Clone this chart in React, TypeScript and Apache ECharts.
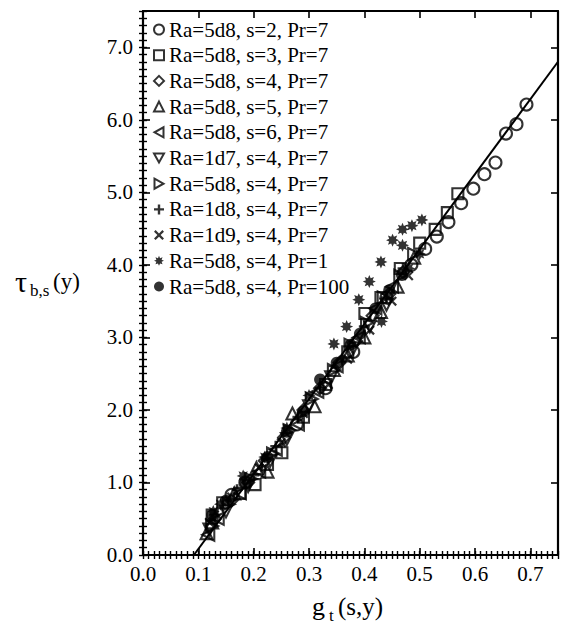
import React, { useEffect, useRef } from "react";
import * as echarts from "echarts";

// ---------- data ----------
const xTickValues = [0.0, 0.1, 0.2, 0.3, 0.4, 0.5, 0.6, 0.7];
const yTickValues = [0.0, 1.0, 2.0, 3.0, 4.0, 5.0, 6.0, 7.0];

const seriesNames = [
  "Ra=5d8, s=2, Pr=7",
  "Ra=5d8, s=3, Pr=7",
  "Ra=5d8, s=4, Pr=7",
  "Ra=5d8, s=5, Pr=7",
  "Ra=5d8, s=6, Pr=7",
  "Ra=1d7, s=4, Pr=7",
  "Ra=5d8, s=4, Pr=7 ",
  "Ra=1d8, s=4, Pr=7",
  "Ra=1d9, s=4, Pr=7",
  "Ra=5d8, s=4, Pr=1",
  "Ra=5d8, s=4, Pr=100",
];

const s2Circles = [
  [0.16, 0.83], [0.185, 1.0], [0.278, 1.8], [0.33, 2.3], [0.38, 2.8], [0.44, 3.55],
  [0.485, 4.0], [0.51, 4.22], [0.531, 4.39], [0.552, 4.59], [0.575, 4.85], [0.597, 5.05],
  [0.617, 5.25], [0.637, 5.41], [0.656, 5.81], [0.675, 5.94], [0.693, 6.21],
];
const s3Squares = [
  [0.125, 0.55], [0.144, 0.72], [0.175, 0.85], [0.2025, 0.97], [0.225, 1.25], [0.251, 1.41],
  [0.29, 1.9], [0.33, 2.35], [0.37, 2.8], [0.401, 3.33], [0.43, 3.55], [0.465, 3.95],
  [0.5, 4.3], [0.528, 4.49], [0.55, 4.72], [0.569, 4.98],
];
const s4Diamonds = [
  [0.13, 0.5], [0.16, 0.75], [0.19, 1.0], [0.22, 1.3], [0.255, 1.62], [0.29, 2.0],
  [0.32, 2.3], [0.355, 2.65], [0.385, 2.95], [0.415, 3.3], [0.445, 3.6], [0.47, 3.9],
];
const s5TrianglesUp = [
  [0.115, 0.3], [0.125, 0.45], [0.165, 0.85], [0.205, 1.2], [0.225, 1.15], [0.27, 1.95],
  [0.31, 2.05], [0.345, 2.55], [0.37, 2.75], [0.4, 3.0], [0.43, 3.35], [0.46, 3.7], [0.49, 4.1],
];
const s6TrianglesLeft = [
  [0.118, 0.28], [0.135, 0.5], [0.175, 0.85], [0.21, 1.15], [0.24, 1.45], [0.28, 1.8],
  [0.315, 2.25], [0.35, 2.6], [0.39, 3.0], [0.42, 3.4], [0.45, 3.7],
];
const s7TrianglesDown = [
  [0.12, 0.35], [0.15, 0.6], [0.19, 0.95], [0.23, 1.3], [0.26, 1.6], [0.3, 2.05],
  [0.34, 2.45], [0.38, 2.85], [0.41, 3.15], [0.44, 3.45],
];
const s8TrianglesRight = [
  [0.125, 0.4], [0.155, 0.7], [0.195, 1.05], [0.235, 1.4], [0.265, 1.72], [0.305, 2.15],
  [0.345, 2.55], [0.375, 2.9], [0.405, 3.2], [0.435, 3.55], [0.465, 3.85], [0.49, 4.15],
];
const s9Plus = [
  [0.13, 0.55], [0.17, 0.9], [0.2, 1.1], [0.24, 1.5], [0.28, 1.9], [0.32, 2.3],
  [0.36, 2.7], [0.4, 3.15], [0.44, 3.55], [0.47, 3.95],
];
const s10Cross = [
  [0.12, 0.45], [0.16, 0.8], [0.21, 1.2], [0.25, 1.55], [0.29, 1.95], [0.335, 2.35],
  [0.37, 2.7], [0.41, 3.1], [0.45, 3.5], [0.48, 3.85],
];
const s11Asterisk = [
  [0.127, 0.6], [0.14, 0.7], [0.181, 1.09], [0.22, 1.35], [0.26, 1.75], [0.3, 2.2],
  [0.345, 2.91], [0.368, 3.15], [0.39, 3.52], [0.409, 3.77], [0.43, 4.04], [0.451, 4.34],
  [0.469, 4.27], [0.469, 4.49], [0.486, 4.54], [0.504, 4.62], [0.431, 3.22], [0.48, 3.95], [0.5, 4.15],
];
const s12Filled = [
  [0.125, 0.55], [0.15, 0.75], [0.185, 1.0], [0.225, 1.35], [0.26, 1.7], [0.29, 1.98],
  [0.32, 2.42], [0.35, 2.65], [0.375, 2.9], [0.392, 3.05], [0.42, 3.4], [0.445, 3.65], [0.468, 3.86],
];
const fitLine = [
  [0.092, 0.0],
  [0.75, 6.8],
];

// ---------- styles ----------
const FONT = "Liberation Serif";
const BLACK = "#000";
const HOLLOW = "rgba(255,255,255,0)";

function starPath(): string {
  const pts: string[] = [];
  for (let i = 0; i < 16; i++) {
    const a = (i * Math.PI) / 8 - Math.PI / 2;
    const r = i % 2 === 0 ? 5 : 2.8;
    pts.push(`${(5 + r * Math.cos(a)).toFixed(2)},${(5 + r * Math.sin(a)).toFixed(2)}`);
  }
  return "path://M" + pts.join("L") + "Z";
}

const SYM_DOWN = "path://M0,0L10,0L5,9Z";
const SYM_LEFT = "path://M9,0L9,10L0,5Z";
const SYM_RIGHT = "path://M0,0L9,5L0,10Z";
const SYM_PLUS = "path://M3.8,0H6.2V3.8H10V6.2H6.2V10H3.8V6.2H0V3.8H3.8Z";
const SYM_CROSS =
  "path://M1.6,0L5,3.4L8.4,0L10,1.6L6.6,5L10,8.4L8.4,10L5,6.6L1.6,10L0,8.4L3.4,5L0,1.6Z";
const SYM_STAR = starPath();

const hollowStyle = { color: HOLLOW, borderColor: BLACK, borderWidth: 2.1 };
const solidStyle = { color: BLACK, borderColor: BLACK, borderWidth: 0 };

const seriesDefs = [
  { data: s2Circles, symbol: "circle", size: 12, style: hollowStyle },
  { data: s3Squares, symbol: "rect", size: 11, style: hollowStyle },
  { data: s4Diamonds, symbol: "diamond", size: 12, style: hollowStyle },
  { data: s5TrianglesUp, symbol: "triangle", size: 12, style: hollowStyle },
  { data: s6TrianglesLeft, symbol: SYM_LEFT, size: 12, style: hollowStyle },
  { data: s7TrianglesDown, symbol: SYM_DOWN, size: 12, style: hollowStyle },
  { data: s8TrianglesRight, symbol: SYM_RIGHT, size: 12, style: hollowStyle },
  { data: s9Plus, symbol: SYM_PLUS, size: 11, style: solidStyle },
  { data: s10Cross, symbol: SYM_CROSS, size: 10, style: solidStyle },
  { data: s11Asterisk, symbol: SYM_STAR, size: 13, style: solidStyle },
  { data: s12Filled, symbol: "circle", size: 12, style: solidStyle },
];

const GRID = { left: 143, right: 8, top: 11, bottom: 70 };

function axisBase(extra: any) {
  return {
    type: "value",
    gridIndex: 0,
    splitLine: { show: false },
    axisLabel: { show: false },
    axisLine: { show: false },
    axisTick: { show: true, inside: true, length: 4, lineStyle: { color: BLACK, width: 1.4 } },
    ...extra,
  };
}

const majorLine = { show: true, onZero: false, lineStyle: { color: BLACK, width: 2.2 } };
const majorTick = { show: true, inside: true, length: 7, lineStyle: { color: BLACK, width: 1.6 } };

export default function App() {
  const ref = useRef<HTMLDivElement>(null);

  useEffect(() => {
    document.body.style.margin = "0";
    if (!ref.current) return;
    const chart = echarts.init(ref.current, null, { renderer: "svg" });

    const fmt = (v: number) => v.toFixed(1);

    const xAxes = [
      axisBase({
        position: "bottom",
        min: 0,
        max: 0.75,
        interval: 0.1,
        axisLine: majorLine,
        axisTick: majorTick,
        axisLabel: {
          show: true,
          margin: 8,
          showMaxLabel: false,
          color: BLACK,
          fontFamily: FONT,
          fontSize: 21,
          formatter: (v: number) => (xTickValues.some((t) => Math.abs(t - v) < 1e-6) ? fmt(v) : ""),
        },
      }),
      axisBase({ position: "bottom", min: 0, max: 0.75, interval: 0.01 }),
      axisBase({ position: "top", min: 0, max: 0.75, interval: 0.1, axisLine: majorLine, axisTick: majorTick }),
      axisBase({ position: "top", min: 0, max: 0.75, interval: 0.01 }),
    ];

    const yAxes = [
      axisBase({
        position: "left",
        min: 0,
        max: 7.5,
        interval: 1,
        axisLine: majorLine,
        axisTick: majorTick,
        axisLabel: {
          show: true,
          margin: 10,
          showMaxLabel: false,
          color: BLACK,
          fontFamily: FONT,
          fontSize: 21,
          formatter: (v: number) => (yTickValues.some((t) => Math.abs(t - v) < 1e-6) ? fmt(v) : ""),
        },
      }),
      axisBase({ position: "left", min: 0, max: 7.5, interval: 0.1 }),
      axisBase({ position: "right", min: 0, max: 7.5, interval: 1, axisLine: majorLine, axisTick: majorTick }),
      axisBase({ position: "right", min: 0, max: 7.5, interval: 0.1 }),
    ];

    const series: any[] = [
      {
        type: "line",
        name: "fit",
        data: fitLine,
        xAxisIndex: 0,
        yAxisIndex: 0,
        showSymbol: false,
        symbol: "none",
        lineStyle: { color: BLACK, width: 2 },
        z: 1,
        silent: true,
      },
    ];
    seriesDefs.forEach((d, i) => {
      series.push({
        type: "scatter",
        name: seriesNames[i],
        data: d.data,
        xAxisIndex: 0,
        yAxisIndex: 0,
        symbol: d.symbol,
        symbolSize: d.size,
        itemStyle: d.style,
        z: 2,
      });
    });

    const legendData = seriesDefs.map((d, i) => ({
      name: seriesNames[i],
      icon: d.symbol,
      itemStyle: { ...d.style, borderWidth: d.style.borderWidth ? 2 : 0 },
    }));

    const txt = (text: string, x: number, y: number, size: number) => ({
      type: "text",
      x,
      y,
      style: {
        text,
        fontFamily: FONT,
        fontSize: size,
        fill: BLACK,
        textVerticalAlign: "middle",
        verticalAlign: "middle",
      },
    });

    chart.setOption({
      animation: false,
      backgroundColor: "#fff",
      grid: { ...GRID, containLabel: false },
      xAxis: xAxes,
      yAxis: yAxes,
      legend: {
        orient: "vertical",
        left: 153,
        top: 19,
        itemWidth: 10,
        itemHeight: 10,
        itemGap: 4.7,
        padding: 0,
        selectedMode: false,
        textStyle: { color: BLACK, fontFamily: FONT, fontSize: 21, lineHeight: 21 },
        data: legendData,
      },
      graphic: [
        txt("τ", 15, 281, 30),
        txt("b,s", 30, 290, 17),
        txt("(y)", 53, 281, 23),
        txt("g", 312, 606, 26),
        txt("t", 329, 615, 17),
        txt("(s,y)", 338, 606, 25),
      ],
      series,
    });

    return () => chart.dispose();
  }, []);

  return (
    <div
      ref={ref}
      style={{ position: "fixed", left: 0, top: 0, width: 566, height: 625, background: "#fff" }}
    />
  );
}
